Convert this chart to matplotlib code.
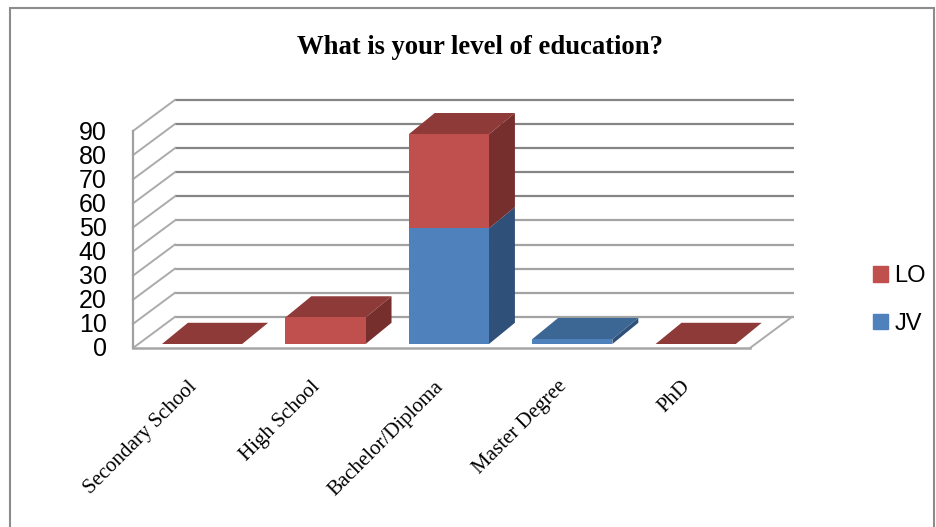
import numpy as np
import matplotlib
matplotlib.use('Agg')
import matplotlib.pyplot as plt
from matplotlib.patches import Polygon, Patch, Rectangle
from matplotlib.transforms import ScaledTranslation

categories = ['Secondary School', 'High School', 'Bachelor/Diploma', 'Master Degree', 'PhD']
jv = [0, 0, 48, 2, 0]
lo = [0, 11, 39, 0, 0]
y_ticks = [0, 10, 20, 30, 40, 50, 60, 70, 80, 90]
title = 'What is your level of education?'

BLUE = ('#4F81BD', '#3C6694', '#2F5079')
RED = ('#C0504D', '#8E3A38', '#772F2D')

# fake 3d: depth offsets in data units
WALL_DX, WALL_DY = 0.34, 12.9
BAR_DX, BAR_DY = 0.21, 8.8
BAR_X0, BAR_Y0 = 0.06, 1.66
BAR_W = 0.65


def draw_side(ax, x, y0, y1, color):
    right = x + BAR_W / 2
    ax.add_patch(Polygon([(right, y0), (right + BAR_DX, y0 + BAR_DY),
                          (right + BAR_DX, y1 + BAR_DY), (right, y1)],
                         closed=True, fc=color, ec='none', clip_on=False, zorder=3))


def draw_top(ax, x, y, color):
    left, right = x - BAR_W / 2, x + BAR_W / 2
    ax.add_patch(Polygon([(left, y), (left + BAR_DX, y + BAR_DY),
                          (right + BAR_DX, y + BAR_DY), (right, y)],
                         closed=True, fc=color, ec='none', clip_on=False, zorder=3))


fig = plt.figure(figsize=(9.36, 5.27), dpi=100)
ax = fig.add_axes([133 / 936, (527 - 348) / 527, (750 - 133) / 936, 217 / 527])
ax.set_xlim(-0.5, 4.5)
ax.set_ylim(0, 90)

# chart border
fig.add_artist(Rectangle((10 / 936, -0.01), 924 / 936, 1.01 - 8 / 527, transform=fig.transFigure,
                         fc='none', ec='#8C8C8C', lw=1.5))

# walls
for v in y_ticks:
    c = '#868686' if v >= 50 else '#A3A3A3'
    ax.plot([-0.5 + WALL_DX, 4.5 + WALL_DX + 0.015], [v + WALL_DY] * 2, color=c, lw=1.6,
            clip_on=False, zorder=1, solid_capstyle='butt')
    ax.plot([-0.5, -0.5 + WALL_DX], [v, v + WALL_DY], color='#ABABAB', lw=1.4,
            clip_on=False, zorder=1)
ax.plot([-0.5, -0.5], [0, 90], color='#A0A0A0', lw=1.6, clip_on=False, zorder=2)
ax.plot([-0.5, 4.5], [0, 0], color='#A6A6A6', lw=1.8, clip_on=False, zorder=2)
ax.plot([4.5, 4.5 + WALL_DX], [0, WALL_DY], color='#ABABAB', lw=1.4, clip_on=False, zorder=2)

# stacked bars
x = np.arange(len(categories)) + BAR_X0
jv_arr = np.array(jv)
lo_arr = np.array(lo)
base = np.full(len(x), BAR_Y0)
ax.bar(x, jv_arr, BAR_W, bottom=base, color=BLUE[0], zorder=4, clip_on=False)
ax.bar(x, lo_arr, BAR_W, bottom=base + jv_arr, color=RED[0], zorder=4, clip_on=False)
for i in range(len(x)):
    y0 = base[i]
    y1 = y0 + jv[i]
    y2 = y1 + lo[i]
    if jv[i] > 0:
        draw_side(ax, x[i], y0, y1, BLUE[2])
    if lo[i] > 0:
        draw_side(ax, x[i], y1, y2, RED[2])
    top_col = BLUE[1] if jv[i] > 0 and lo[i] == 0 else RED[1]
    draw_top(ax, x[i], y2, top_col)

for s in ax.spines.values():
    s.set_visible(False)
ax.patch.set_alpha(0)
ax.set_yticks(y_ticks)
ax.set_yticklabels([str(v) for v in y_ticks], family='Liberation Sans', fontsize=18, color='black')
ax.tick_params(axis='y', length=0, pad=19)
for lab in ax.get_yticklabels():
    lab.set_transform(lab.get_transform() + ScaledTranslation(0, 1 / 100, fig.dpi_scale_trans))
ax.set_xticks(x - 0.12)
ax.set_xticklabels(categories, family='Liberation Serif', fontsize=15, rotation=45,
                   ha='right', rotation_mode='anchor')
ax.tick_params(axis='x', length=0, pad=21)

fig.text(480 / 936, 1 - 47 / 527, title, family='Liberation Serif', fontweight='bold',
         fontsize=19.2, ha='center', va='center')

handles = [Patch(color=RED[0], label='LO'), Patch(color=BLUE[0], label='JV')]
leg = fig.legend(handles=handles, loc='center left', bbox_to_anchor=(852 / 936, 1 - 300 / 527),
                 frameon=False, prop={'family': 'Liberation Sans', 'size': 17},
                 handlelength=0.64, handleheight=0.64, handletextpad=0.25, labelspacing=1.1)

fig.savefig('out.png', dpi=100)
